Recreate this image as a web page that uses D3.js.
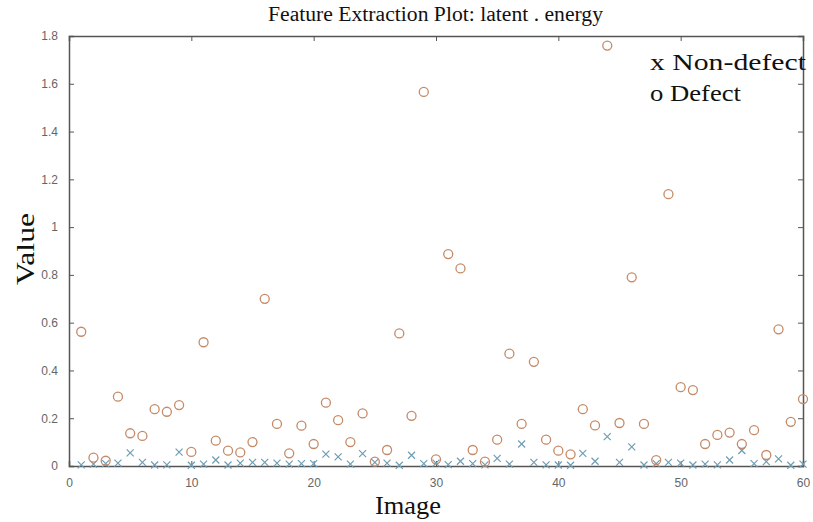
<!DOCTYPE html>
<html>
<head>
<meta charset="utf-8">
<script src="https://cdn.jsdelivr.net/npm/d3@7"></script>
<style>
  body { margin: 0; background: #fff; }
  svg { display: block; }
</style>
</head>
<body>
<div id="chart"></div>
<script>
// Image index 1..60
const images = d3.range(1, 61);

// Defect (o) values
const defectValues = [
  0.562, 0.035, 0.022, 0.290, 0.137, 0.126, 0.238, 0.227, 0.255, 0.059,
  0.518, 0.106, 0.064, 0.057, 0.100, 0.700, 0.176, 0.053, 0.169, 0.092,
  0.265, 0.192, 0.100, 0.220, 0.018, 0.067, 0.555, 0.210, 1.566, 0.028,
  0.887, 0.827, 0.067, 0.018, 0.110, 0.470, 0.176, 0.436, 0.110, 0.064,
  0.049, 0.238, 0.170, 1.760, 0.180, 0.790, 0.176, 0.025, 1.138, 0.330,
  0.318, 0.092, 0.130, 0.140, 0.092, 0.150, 0.046, 0.572, 0.185, 0.280
];

// Non-defect (x) values
const nonDefectValues = [
  0.005, 0.008, 0.010, 0.012, 0.055, 0.015, 0.004, 0.005, 0.058, 0.003,
  0.008, 0.025, 0.004, 0.012, 0.015, 0.015, 0.012, 0.008, 0.010, 0.010,
  0.050, 0.038, 0.008, 0.052, 0.015, 0.012, 0.003, 0.045, 0.010, 0.012,
  0.006, 0.020, 0.010, 0.005, 0.032, 0.008, 0.092, 0.015, 0.005, 0.004,
  0.003, 0.053, 0.020, 0.123, 0.015, 0.080, 0.004, 0.010, 0.015, 0.012,
  0.004, 0.008, 0.005, 0.025, 0.065, 0.010, 0.018, 0.030, 0.003, 0.008
];

const xTicks = [0, 10, 20, 30, 40, 50, 60];
const yTicks = [0, 0.2, 0.4, 0.6, 0.8, 1, 1.2, 1.4, 1.6, 1.8];

const W = 813, H = 522;
const margin = {top: 36, right: 10, bottom: 56, left: 69};
const width = W - margin.left - margin.right,
      height = H - margin.top - margin.bottom;

const svg = d3.select("#chart").append("svg")
    .attr("width", W)
    .attr("height", H);

const g = svg.append("g")
    .attr("transform", `translate(${margin.left},${margin.top})`);

const x = d3.scaleLinear().domain([0, 60]).range([0, width]);
const y = d3.scaleLinear().domain([0, 1.8]).range([height, 0]);

const axisColor = "#555";
const tickFont = "Liberation Sans, Arial, sans-serif";
const serif = "Liberation Serif, Times New Roman, serif";

// Bottom axis with inward ticks
const xAxis = g.append("g")
    .attr("transform", `translate(0,${height})`)
    .call(d3.axisBottom(x).tickValues(xTicks).tickSize(-5).tickPadding(12).tickFormat(d3.format("d")));
// Left axis
const yAxis = g.append("g")
    .call(d3.axisLeft(y).tickValues(yTicks).tickSize(-5).tickPadding(11).tickFormat(d => d3.format("~g")(d)));
// Top and right mirrored ticks
const xTop = g.append("g")
    .call(d3.axisTop(x).tickValues(xTicks).tickSize(-5).tickFormat(""));
const yRight = g.append("g")
    .attr("transform", `translate(${width},0)`)
    .call(d3.axisRight(y).tickValues(yTicks).tickSize(-5).tickFormat(""));

[xAxis, yAxis, xTop, yRight].forEach(a => {
    a.selectAll("path").attr("stroke", axisColor).attr("stroke-width", 1.5);
    a.selectAll("line").attr("stroke", axisColor);
    a.selectAll("text")
        .attr("fill", "#666")
        .style("font-family", tickFont)
        .style("font-size", "12px");
});

// Non-defect markers (x)
const xs = 3.5;
g.append("g")
    .selectAll("path")
    .data(images.map((d, i) => ({img: d, v: nonDefectValues[i]})))
    .enter()
    .append("path")
    .attr("d", d => {
        const cx = x(d.img), cy = y(d.v);
        return `M${cx - xs},${cy - xs}L${cx + xs},${cy + xs}M${cx - xs},${cy + xs}L${cx + xs},${cy - xs}`;
    })
    .attr("stroke", "#6f9db3")
    .attr("stroke-width", 1.2)
    .attr("fill", "none");

// Defect markers (o)
g.append("g")
    .selectAll("circle")
    .data(images.map((d, i) => ({img: d, v: defectValues[i]})))
    .enter()
    .append("circle")
    .attr("cx", d => x(d.img))
    .attr("cy", d => y(d.v))
    .attr("r", 4.5)
    .attr("fill", "none")
    .attr("stroke", "#c58a67")
    .attr("stroke-width", 1.3);

// Title
svg.append("text")
    .attr("x", 268)
    .attr("y", 21)
    .attr("textLength", 335)
    .attr("lengthAdjust", "spacingAndGlyphs")
    .style("font-family", serif)
    .style("font-size", "20px")
    .attr("fill", "#111")
    .text("Feature Extraction Plot: latent . energy");

// X label
svg.append("text")
    .attr("x", 375)
    .attr("y", 514)
    .attr("textLength", 66)
    .attr("lengthAdjust", "spacingAndGlyphs")
    .style("font-family", serif)
    .style("font-size", "25px")
    .attr("fill", "#111")
    .text("Image");

// Y label
svg.append("text")
    .attr("transform", "translate(34,285) rotate(-90)")
    .attr("textLength", 72)
    .attr("lengthAdjust", "spacingAndGlyphs")
    .style("font-family", serif)
    .style("font-size", "26px")
    .attr("fill", "#111")
    .text("Value");

// Legend text
const legend = [
    {label: "x Non-defect", y: 70, len: 156},
    {label: "o Defect", y: 101, len: 91}
];
svg.append("g")
    .selectAll("text")
    .data(legend)
    .enter()
    .append("text")
    .attr("x", 650)
    .attr("y", d => d.y)
    .attr("textLength", d => d.len)
    .attr("lengthAdjust", "spacingAndGlyphs")
    .style("font-family", serif)
    .style("font-size", "23px")
    .attr("fill", "#111")
    .text(d => d.label);
</script>
</body>
</html>
